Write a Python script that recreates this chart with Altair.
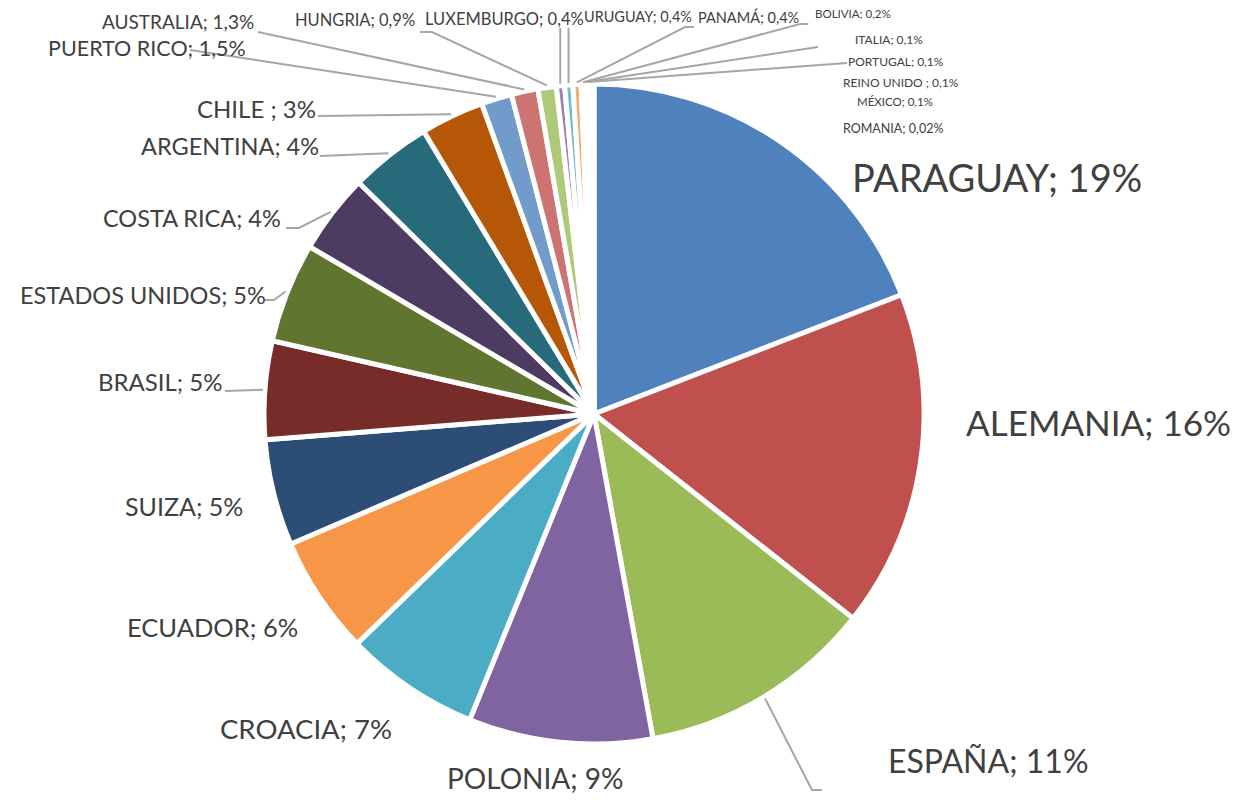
import altair as alt
import pandas as pd
import numpy as np

# ---------------- data ----------------
paises = ["PARAGUAY", "ALEMANIA", "ESPAÑA", "POLONIA", "CROACIA", "ECUADOR", "SUIZA",
          "BRASIL", "ESTADOS UNIDOS", "COSTA RICA", "ARGENTINA", "CHILE", "PUERTO RICO",
          "AUSTRALIA", "HUNGRIA", "LUXEMBURGO", "URUGUAY", "PANAMÁ", "BOLIVIA", "ITALIA",
          "PORTUGAL", "REINO UNIDO", "MÉXICO", "ROMANIA"]
valores = [19.1, 16.5, 11.5, 9.0, 6.6, 5.8, 5.2, 4.8, 4.9, 3.9, 4.0, 3.1, 1.5, 1.3,
           0.9, 0.4, 0.4, 0.4, 0.2, 0.1, 0.1, 0.1, 0.1, 0.02]
etiquetas = ["PARAGUAY;  19%", "ALEMANIA; 16%", "ESPAÑA; 11%", "POLONIA; 9%", "CROACIA; 7%",
             "ECUADOR; 6%", "SUIZA; 5%", "BRASIL; 5%", "ESTADOS UNIDOS; 5%", "COSTA RICA; 4%",
             "ARGENTINA; 4%", "CHILE ; 3%", "PUERTO RICO; 1,5%", "AUSTRALIA; 1,3%",
             "HUNGRIA; 0,9%", "LUXEMBURGO; 0,4%", "URUGUAY; 0,4%", "PANAMÁ; 0,4%",
             "BOLIVIA; 0,2%", "ITALIA; 0,1%", "PORTUGAL;  0,1%", "REINO UNIDO  ; 0,1%",
             "MÉXICO; 0,1%", "ROMANIA; 0,02%"]

# ---------------- styles / layout ----------------
colores = ["#4F81BD", "#C0504D", "#9BBB59", "#8064A2", "#4BACC6", "#F79646", "#2C4D75",
           "#772C2A", "#5F7530", "#4D3B62", "#276A7C", "#B65708", "#729ACA", "#CD7371",
           "#AFC97A", "#9983B5", "#6FBDD1", "#F9AB6B", "#3A679C", "#9F3B38", "#7F9C40",
           "#674E82", "#358EA6", "#E07E1C"]

OFF = 8  # page margin
CX, CY, R = 594 - OFF, 414 - OFF, 330

# label anchor (left x, middle y) in page pixels, and font sizes
lab_x = [852, 966, 888, 447, 220, 127, 125, 98, 20, 103, 141, 197, 48, 102, 295, 425,
         584, 698, 815, 855, 848, 843, 857, 843]
lab_y = [181, 425, 763, 781, 731, 629, 508, 384, 297, 220, 148, 111, 50, 23, 21, 20,
         18, 19, 15, 40, 62, 83, 103, 129]
lab_fs = [38, 35, 32, 28, 27.5, 25.5, 25, 24, 23.5, 23.5, 23.5, 24, 21.5, 19, 16.5, 16.5,
          14.5, 14.5, 11.5, 12, 12, 12, 11.5, 12.5]

# leader-line label-side points (page pixels); None x = vertical line above slice
leaders = {
    "ESPAÑA": [(822, 790), (812, 790)],
    "BRASIL": [(225, 391)],
    "ESTADOS UNIDOS": [(265, 300), (274, 300)],
    "COSTA RICA": [(286, 228), (299, 228)],
    "ARGENTINA": [(320, 156)],
    "CHILE": [(318, 116)],
    "PUERTO RICO": [(190, 50)],
    "AUSTRALIA": [(258, 32)],
    "HUNGRIA": [(420, 32), (432, 32)],
    "LUXEMBURGO": [(None, 28)],
    "URUGUAY": [(None, 28)],
    "PANAMÁ": [(694, 27), (685, 27)],
    "BOLIVIA": [(808, 24), (800, 24)],
    "ITALIA": [(818, 47)],
    "PORTUGAL": [(847, 63)],
}

# ---------------- tables ----------------
df = pd.DataFrame({"pais": paises, "valor": valores, "idx": range(len(paises))})

tot = float(np.sum(valores))
cum = np.cumsum(valores) / tot * 2 * np.pi
mid = cum - np.array(valores) / tot * np.pi
edge_x = CX + (R + 2) * np.sin(mid)
edge_y = CY - (R + 2) * np.cos(mid)

lab = pd.DataFrame({
    "txt": etiquetas,
    "x": [v - OFF for v in lab_x],
    "y": [v - OFF for v in lab_y],
    "fs": lab_fs,
})

rows = []
for i, p in enumerate(paises):
    if p not in leaders:
        continue
    pts = leaders[p]
    k = 0
    for (px, py) in pts:
        xx = edge_x[i] if px is None else px - OFF
        rows.append({"lid": p, "o": k, "x": xx, "y": py - OFF})
        k += 1
    rows.append({"lid": p, "o": k, "x": edge_x[i], "y": edge_y[i]})
lines = pd.DataFrame(rows)

# ---------------- chart ----------------
arcs = alt.Chart(df).mark_arc(outerRadius=R, stroke="white", strokeWidth=5).encode(
    theta=alt.Theta("valor:Q", stack=True),
    order=alt.Order("idx:Q", sort="ascending"),
    color=alt.Color("pais:N", scale=alt.Scale(domain=paises, range=colores), legend=None),
    x=alt.value(CX),
    y=alt.value(CY),
)

lead = alt.Chart(lines).mark_line(color="#A6A6A6", strokeWidth=2).encode(
    x=alt.X("x:Q", scale=None),
    y=alt.Y("y:Q", scale=None),
    detail="lid:N",
    order="o:Q",
)

texts = alt.Chart(lab).mark_text(align="left", baseline="middle", font="Lato",
                                 color="#404040").encode(
    x=alt.X("x:Q", scale=None),
    y=alt.Y("y:Q", scale=None),
    text="txt:N",
    size=alt.Size("fs:Q", scale=None),
)

chart = alt.layer(arcs, lead, texts).properties(
    width=1236, height=788, padding=0, autosize="none"
).configure_view(stroke=None)

chart.save("out.html", embed_options={"renderer": "svg", "actions": False})
